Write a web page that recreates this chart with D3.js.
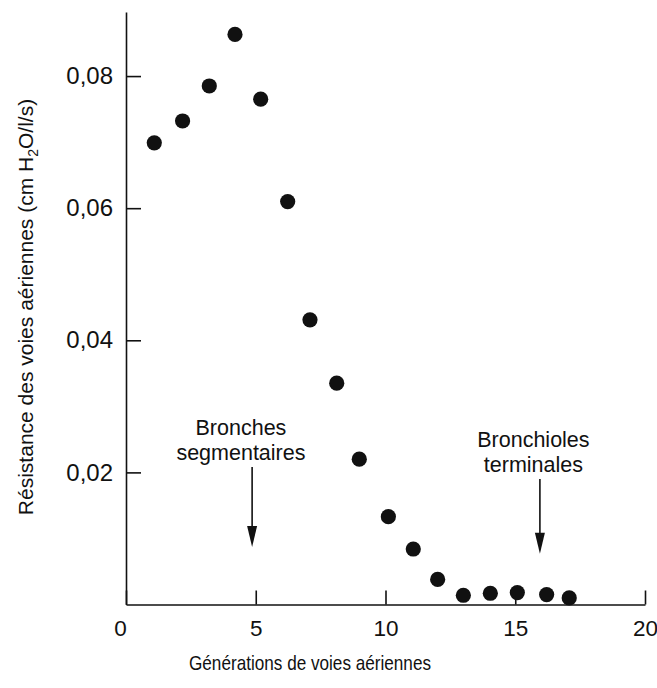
<!DOCTYPE html>
<html>
<head>
<meta charset="utf-8">
<script src="https://cdn.jsdelivr.net/npm/d3@7"></script>
<style>
  body { margin: 0; background: #fff; }
  svg { display: block; font-family: "Liberation Sans", Arial, Helvetica, sans-serif; }
</style>
</head>
<body>
<svg id="chart" width="657" height="688"></svg>
<script>
// Generation number (x) and airway resistance (y)
const generations = [1.09, 2.18, 3.21, 4.20, 5.19, 6.23, 7.09, 8.12, 8.99, 10.11, 11.07, 12.01, 13.00, 14.04, 15.08, 16.21, 17.08];
const resistance = [0.0699, 0.0732, 0.0785, 0.0863, 0.0765, 0.0610, 0.0431, 0.0335, 0.0220, 0.0133, 0.0084, 0.0038, 0.0014, 0.0017, 0.0018, 0.0015, 0.0010];

const xTicks = [0, 5, 10, 15, 20];
const yTicks = [0.02, 0.04, 0.06, 0.08];

// Annotations: label lines, arrow generation, arrow top/bottom (resistance units)
const annotLabels = [["Bronches", "segmentaires"], ["Bronchioles", "terminales"]];
const annotTextX = [4.43, 15.70];
const annotArrowX = [4.86, 15.95];
const annotArrowTop = [0.0208, 0.0190];
const annotArrowBottom = [0.0087, 0.0077];
const annotTextY = [0.0257, 0.0238];

const svg = d3.select("#chart");

const x = d3.scaleLinear().domain([0, 20]).range([126, 645]);
const y = d3.scaleLinear().domain([0, 0.0897]).range([604.5, 12]);

const ink = "#111";

// Y axis, ticks pointing inward
const yAxis = svg.append("g")
  .attr("transform", `translate(${x(0)},0)`)
  .call(d3.axisLeft(y)
    .tickValues(yTicks)
    .tickSizeInner(-15)
    .tickSizeOuter(0)
    .tickPadding(13)
    .tickFormat((d) => d3.format(".2f")(d).replace(".", ",")));

// X axis, ticks pointing upward
const xAxis = svg.append("g")
  .attr("transform", `translate(0,${y(0)})`)
  .call(d3.axisBottom(x)
    .tickValues(xTicks)
    .tickSizeInner(-14)
    .tickSizeOuter(0)
    .tickPadding(16)
    .tickFormat(d3.format("d")));

[yAxis, xAxis].forEach((a) => {
  a.select(".domain").attr("stroke", ink).attr("stroke-width", 1.6);
  a.selectAll(".tick line").attr("stroke", ink).attr("stroke-width", 1.6);
  a.selectAll(".tick text").attr("fill", ink).attr("font-family", null);
});
yAxis.selectAll(".tick text").attr("font-size", 24);
xAxis.selectAll(".tick text").attr("font-size", 22.5);
xAxis.selectAll(".tick").filter((d) => d === 0).select("text").attr("dx", -6);

// Points
svg.append("g")
  .selectAll("circle")
  .data(generations)
  .join("circle")
  .attr("cx", (d) => x(d))
  .attr("cy", (d, i) => y(resistance[i]))
  .attr("r", 7.6)
  .attr("fill", ink);

// Annotations
const ann = svg.append("g")
  .selectAll("g")
  .data(annotLabels)
  .join("g");

ann.append("text")
  .attr("text-anchor", "middle")
  .attr("font-size", 21.5)
  .attr("fill", ink)
  .attr("x", (d, i) => x(annotTextX[i]))
  .attr("y", (d, i) => y(annotTextY[i]))
  .selectAll("tspan")
  .data((d) => d)
  .join("tspan")
  .attr("x", function () { return this.parentNode.getAttribute("x"); })
  .attr("dy", (d, j) => (j === 0 ? 0 : 25))
  .text((d) => d);

ann.append("line")
  .attr("x1", (d, i) => x(annotArrowX[i]))
  .attr("x2", (d, i) => x(annotArrowX[i]))
  .attr("y1", (d, i) => y(annotArrowTop[i]))
  .attr("y2", (d, i) => y(annotArrowBottom[i]) - 18)
  .attr("stroke", ink)
  .attr("stroke-width", 1.6);

ann.append("path")
  .attr("d", (d, i) => {
    const ax = x(annotArrowX[i]);
    const ay = y(annotArrowBottom[i]);
    return `M${ax - 5},${ay - 21}L${ax + 5},${ay - 21}L${ax},${ay}Z`;
  })
  .attr("fill", ink);

// Axis titles
svg.append("text")
  .attr("x", 310)
  .attr("y", 670)
  .attr("text-anchor", "middle")
  .attr("font-size", 21)
  .attr("textLength", 242)
  .attr("lengthAdjust", "spacingAndGlyphs")
  .attr("fill", ink)
  .text("Générations de voies aériennes");

const yTitle = svg.append("text")
  .attr("transform", "translate(33,307) rotate(-90)")
  .attr("text-anchor", "middle")
  .attr("font-size", 21)
  .attr("fill", ink);
yTitle.append("tspan").text("Résistance des voies aériennes (cm H");
yTitle.append("tspan").attr("font-size", 14).attr("dy", 5).text("2");
yTitle.append("tspan").attr("dy", -5).text("O/l/s)");
</script>
</body>
</html>
